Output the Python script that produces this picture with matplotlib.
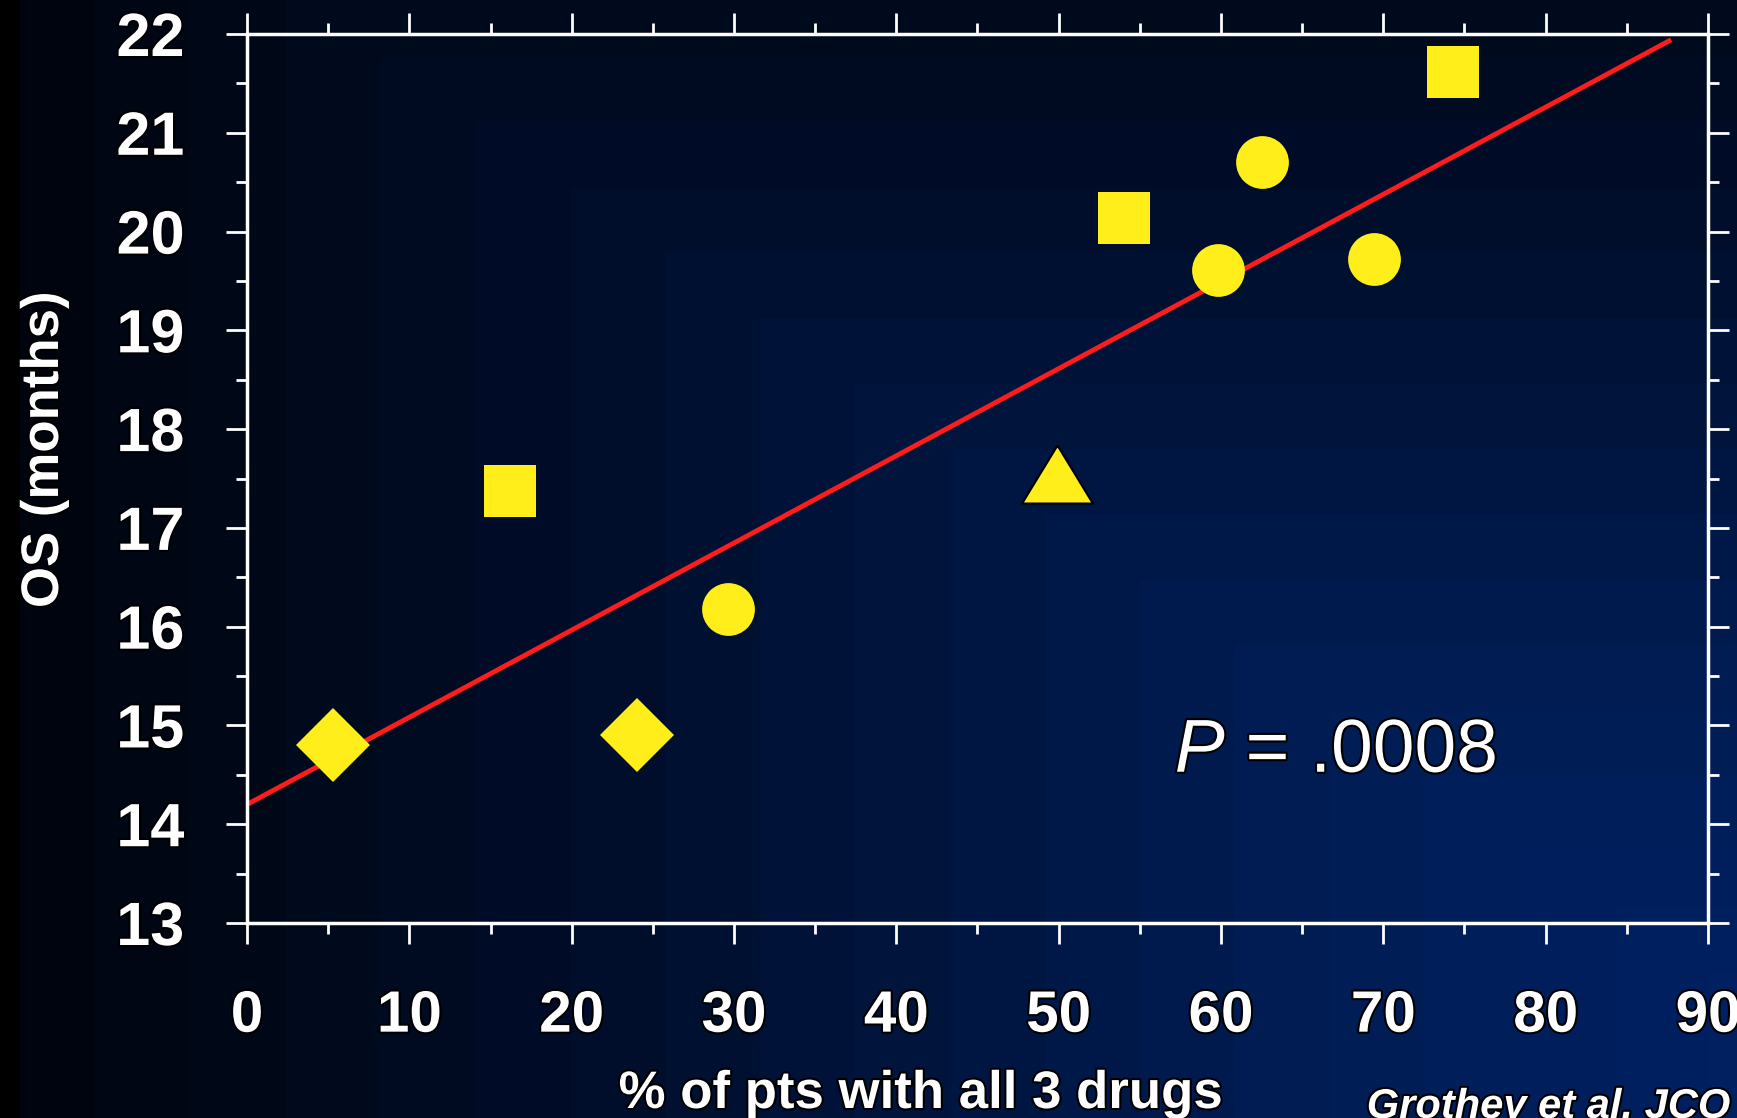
import matplotlib
matplotlib.use("Agg")
import matplotlib.pyplot as plt
import matplotlib.patheffects as pe
from matplotlib.ticker import MultipleLocator
import numpy as np

plt.rcParams["font.family"] = ["Liberation Sans", "DejaVu Sans"]
plt.rcParams["mathtext.fontset"] = "custom"
plt.rcParams["mathtext.it"] = "Liberation Sans:italic"
plt.rcParams["mathtext.rm"] = "Liberation Sans"

# data
diamond_x = [5.3, 24.0]
diamond_y = [14.8, 14.9]
square_x = [16.2, 54.0, 74.3]
square_y = [17.37, 20.14, 21.62]
circle_x = [29.6, 59.8, 62.5, 69.4]
circle_y = [16.18, 19.61, 20.70, 19.72]
triangle_x = [49.9]
triangle_y = [17.55]

# regression line end points
fit_x = [0, 87.6]
fit_y = [14.2, 21.93]

x_ticks = list(range(0, 91, 10))
y_ticks = list(range(13, 23))

W, H = 1737, 1118
fig = plt.figure(figsize=(W / 100, H / 100), dpi=100)

# stepped navy background, lighter towards the lower right
bg = fig.add_axes([0, 0, 1, 1], zorder=-1)
xx, yy = np.meshgrid(np.arange(W), np.arange(H))
level = np.minimum(xx, 300 + 1.45 * yy)
level = np.where(level < 20, 0, np.floor(level / 95) * 95 + 47)
stops = [0, 20, 300, 600, 900, 1150, 1400, 1737]
g_ch = [0, 4, 10, 14, 20, 26, 30, 32]
b_ch = [0, 14, 28, 44, 60, 76, 88, 96]
rgb = np.zeros((H, W, 3))
rgb[..., 1] = np.interp(level, stops, g_ch) / 255
rgb[..., 2] = np.interp(level, stops, b_ch) / 255
bg.imshow(rgb, aspect="auto", extent=(0, 1, 0, 1), interpolation="nearest")
bg.set_axis_off()

ax = fig.add_axes([247 / W, (H - 923) / H, (1708 - 247) / W, (923 - 34) / H])
ax.patch.set_alpha(0)

yellow = "#ffee1a"
ax.plot(fit_x, fit_y, color="#ff1c1c", lw=3.5, zorder=2)
ax.plot(diamond_x, diamond_y, "D", ms=38, color=yellow, mew=0, zorder=3, clip_on=False)
ax.plot(square_x, square_y, "s", ms=38, color=yellow, mew=0, zorder=3, clip_on=False)
ax.plot(circle_x, circle_y, "o", ms=38, color=yellow, mew=0, zorder=3, clip_on=False)
tri = [(0, 1), (-1.22, -1), (1.22, -1), (0, 1)]
ax.plot(triangle_x, triangle_y, marker=tri, ls="none", ms=51, color=yellow,
        mec="black", mew=1.5, zorder=3, clip_on=False)

ax.set_xlim(0, 90)
ax.set_ylim(13, 22)
ax.set_xticks(x_ticks)
ax.set_yticks(y_ticks)
ax.xaxis.set_minor_locator(MultipleLocator(5))
ax.yaxis.set_minor_locator(MultipleLocator(0.5))

for s in ax.spines.values():
    s.set_color("white")
    s.set_linewidth(2.5)

ax.tick_params(which="both", direction="out", top=True, right=True,
               colors="white", width=2)
ax.tick_params(which="major", length=15)
ax.tick_params(which="minor", length=8)
ax.tick_params(axis="x", which="major", pad=33, labelsize=42)
ax.tick_params(axis="y", which="major", pad=30, labelsize=44)

shadow = [pe.withStroke(linewidth=3, foreground="black")]
for lbl in ax.get_xticklabels() + ax.get_yticklabels():
    lbl.set_fontweight("bold")
    lbl.set_path_effects(shadow)

fig.text(58 / W, 1 - 450 / H, "OS (months)", rotation=90, rotation_mode="anchor",
         ha="center", va="baseline", color="white", fontsize=38,
         fontweight="bold", path_effects=shadow)
fig.text(920 / W, 1 - 1108 / H, "% of pts with all 3 drugs", ha="center",
         va="baseline", color="white", fontsize=38, fontweight="bold",
         path_effects=shadow)
fig.text(1730 / W, 0.0, "Grothey et al. JCO", ha="right", va="baseline",
         color="white", fontsize=30, fontweight="bold", fontstyle="italic",
         path_effects=shadow)

ax.text(0.635, 0.170, r"$P$ = .0008", transform=ax.transAxes, ha="left",
        va="baseline", color="white", fontsize=54, path_effects=shadow)

fig.savefig("out.png", dpi=100)
